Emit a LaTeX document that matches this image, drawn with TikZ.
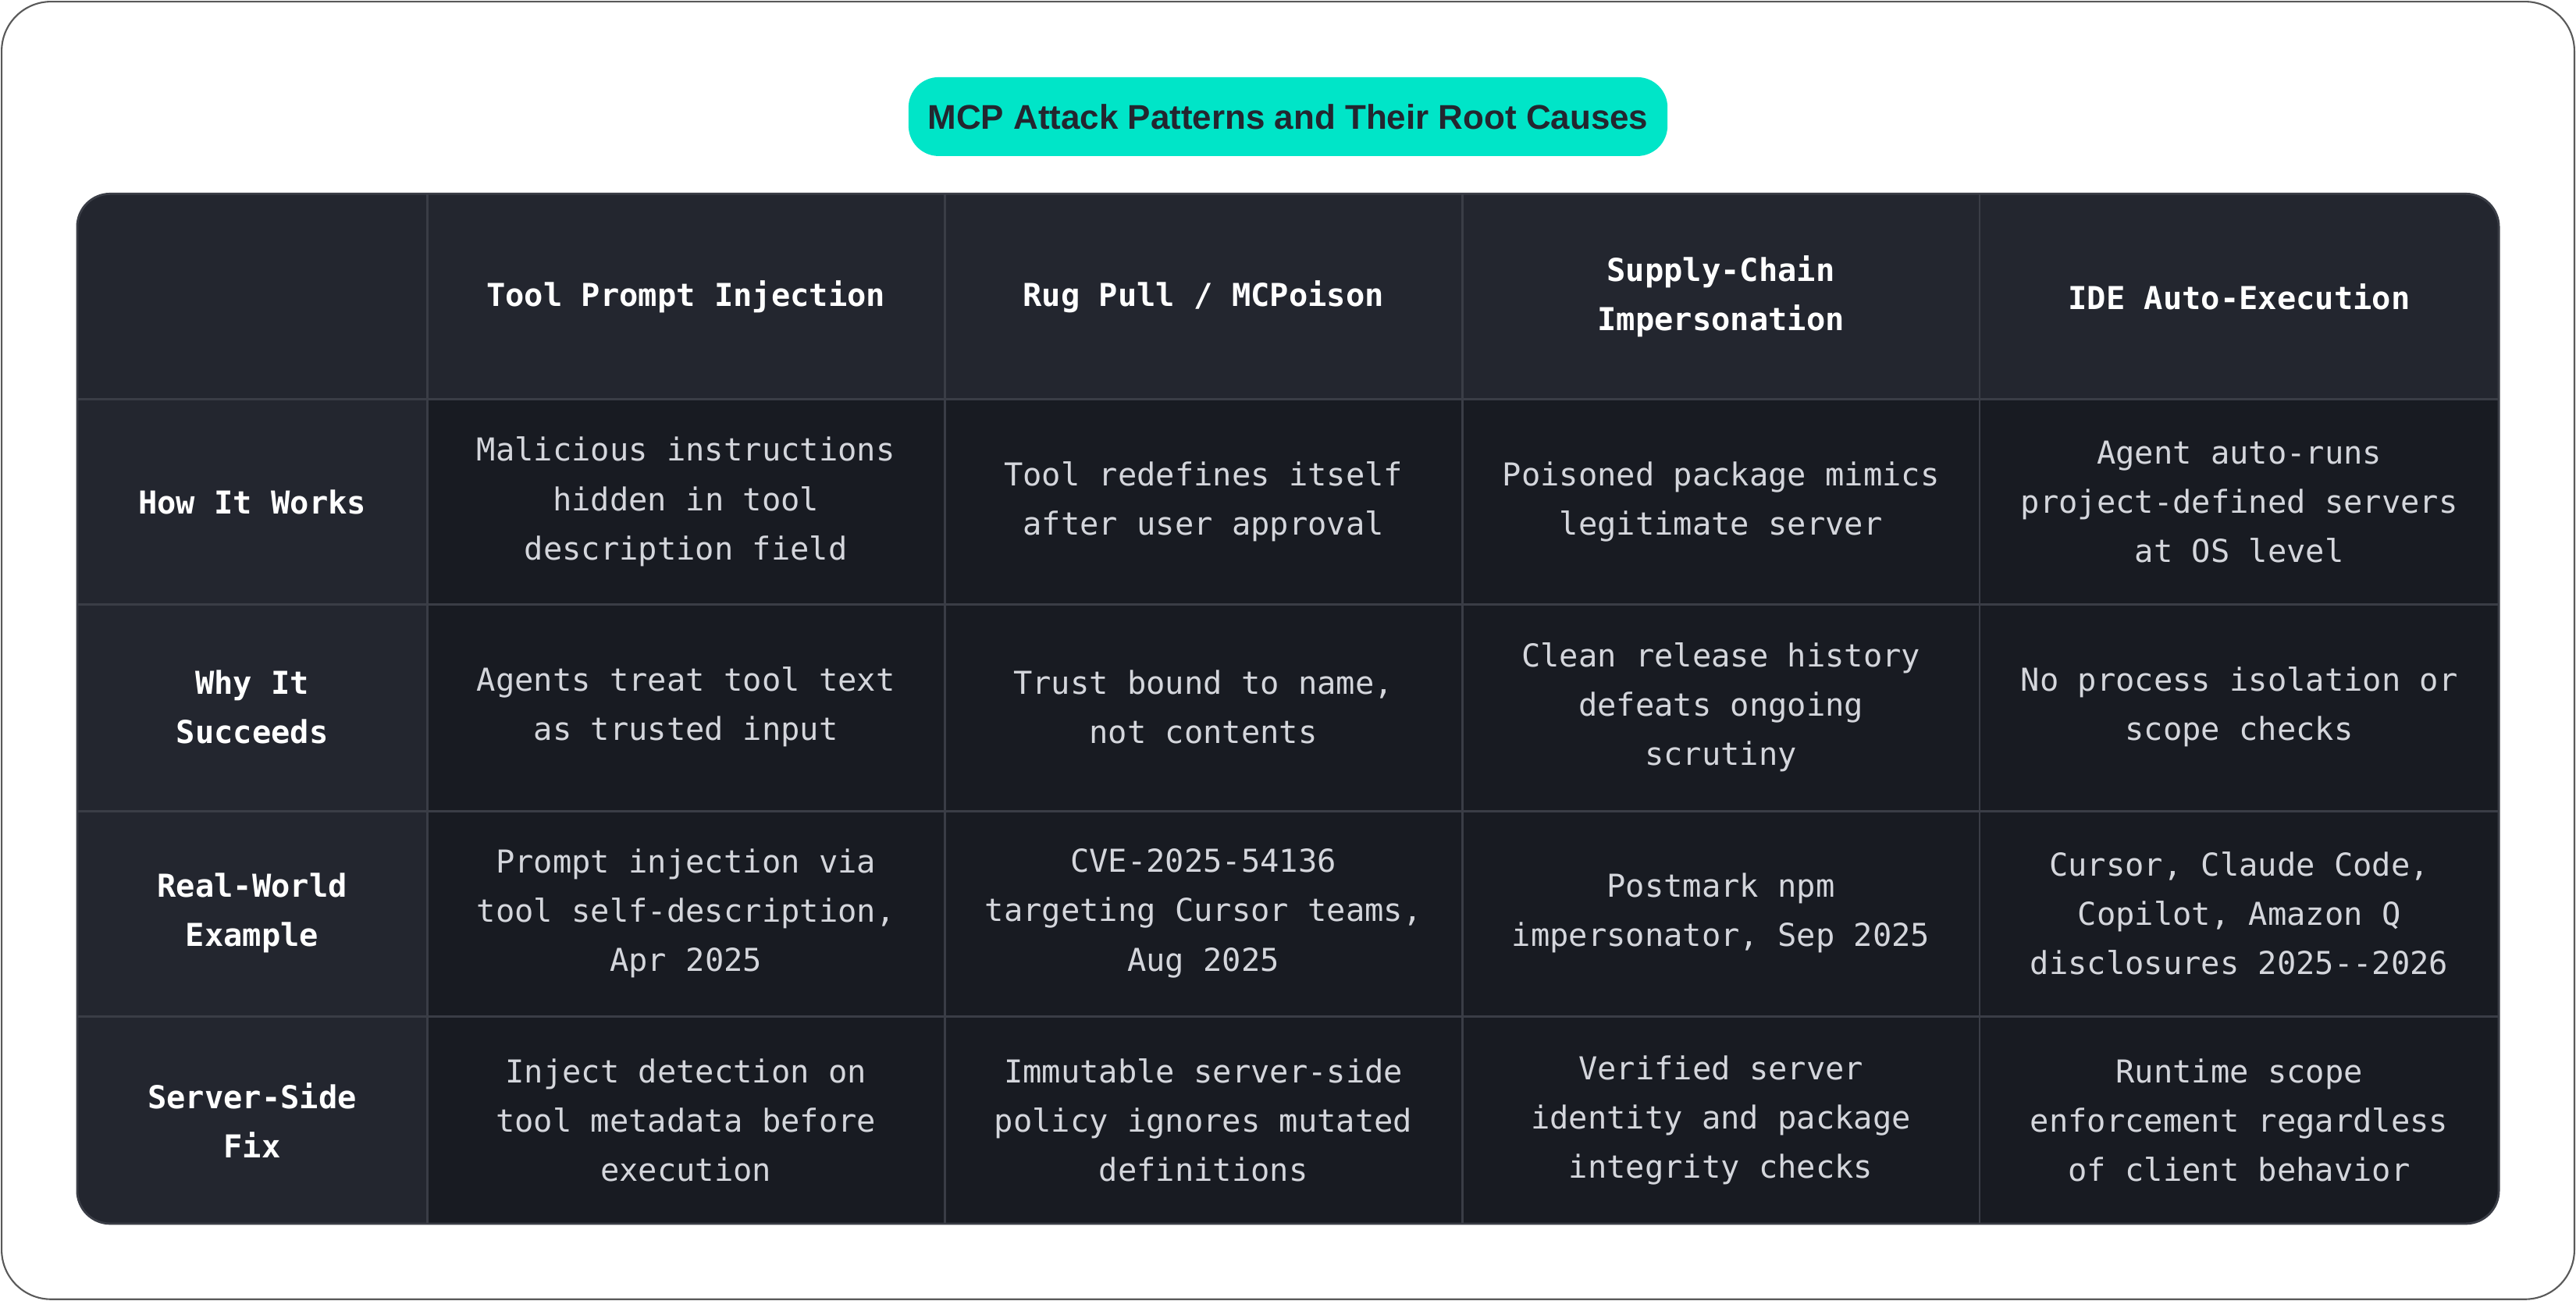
\documentclass[tikz,border=0pt]{standalone}
\usepackage{fontspec}
\setmainfont{Liberation Sans}
\newfontfamily\cellfont{DejaVu Sans Mono}
\usetikzlibrary{positioning}
\definecolor{pillteal}{HTML}{00E5C8}
\definecolor{headbg}{HTML}{23262F}
\definecolor{bodybg}{HTML}{181B22}
\definecolor{gridln}{HTML}{3A3D46}
\definecolor{celltxt}{HTML}{D4D6DC}
\tikzset{
  head/.style={align=center, text=white, font=\cellfont\bfseries\fontsize{11.5}{18}\selectfont},
  cell/.style={align=center, text=celltxt, font=\cellfont\fontsize{11.5}{18}\selectfont},
}
\begin{document}
\begin{tikzpicture}[x=0.021046cm, y=-0.021046cm]
\useasboundingbox (0,0) rectangle (1568,792);
\draw[gray!70!black, line width=0.6pt, rounded corners=18pt, fill=white] (1,1) rectangle (1567,791);
% title
\node[fill=pillteal, rounded corners=11pt, minimum width=462*0.021046cm, minimum height=48*0.021046cm,
  font=\bfseries\fontsize{12.5}{15}\selectfont, text=headbg] (title) at (784,71) {MCP Attack Patterns and Their Root Causes};
% table background
\fill[bodybg, rounded corners=12pt] (47,118) rectangle (1521,745);
\begin{scope}
\clip[rounded corners=12pt] (47,118) rectangle (1521,745);
\fill[headbg] (47,118) rectangle (1521,243);
\fill[headbg] (47,118) rectangle (260,745);
\foreach \x in {260,575,890,1205} \draw[gridln, line width=0.8pt] (\x,118) -- (\x,745);
\foreach \y in {243,368,494,619} \draw[gridln, line width=0.8pt] (47,\y) -- (1521,\y);
\end{scope}
\draw[gridln, line width=0.8pt, rounded corners=12pt] (47,118) rectangle (1521,745);
% header row
\node[head] (h1) at (417.5,180.5) {Tool Prompt Injection};
\node[head] (h2) at (732.5,180.5) {Rug Pull / MCPoison};
\node[head] (h3) at (1047.5,180.5) {Supply-Chain\\Impersonation};
\node[head] (h4) at (1363,180.5) {IDE Auto-Execution};
% row labels
\node[head] (r1) at (153.5,305.5) {How It Works};
\node[head] (r2) at (153.5,430.5) {Why It\\Succeeds};
\node[head] (r3) at (153.5,556) {Real-World\\Example};
\node[head] (r4) at (153.5,682) {Server-Side\\Fix};
% row 1
\node[cell] (c11) at (417.5,305.5) {Malicious instructions\\hidden in tool\\description field};
\node[cell] (c12) at (732.5,305.5) {Tool redefines itself\\after user approval};
\node[cell] (c13) at (1047.5,305.5) {Poisoned package mimics\\legitimate server};
\node[cell] (c14) at (1363,305.5) {Agent auto-runs\\project-defined servers\\at OS level};
% row 2
\node[cell] (c21) at (417.5,430.5) {Agents treat tool text\\as trusted input};
\node[cell] (c22) at (732.5,430.5) {Trust bound to name,\\not contents};
\node[cell] (c23) at (1047.5,430.5) {Clean release history\\defeats ongoing\\scrutiny};
\node[cell] (c24) at (1363,430.5) {No process isolation or\\scope checks};
% row 3
\node[cell] (c31) at (417.5,556) {Prompt injection via\\tool self-description,\\Apr 2025};
\node[cell] (c32) at (732.5,556) {CVE-2025-54136\\targeting Cursor teams,\\Aug 2025};
\node[cell] (c33) at (1047.5,556) {Postmark npm\\impersonator, Sep 2025};
\node[cell] (c34) at (1363,556) {Cursor, Claude Code,\\Copilot, Amazon Q\\disclosures 2025--2026};
% row 4
\node[cell] (c41) at (417.5,682) {Inject detection on\\tool metadata before\\execution};
\node[cell] (c42) at (732.5,682) {Immutable server-side\\policy ignores mutated\\definitions};
\node[cell] (c43) at (1047.5,682) {Verified server\\identity and package\\integrity checks};
\node[cell] (c44) at (1363,682) {Runtime scope\\enforcement regardless\\of client behavior};
\end{tikzpicture}
\end{document}
